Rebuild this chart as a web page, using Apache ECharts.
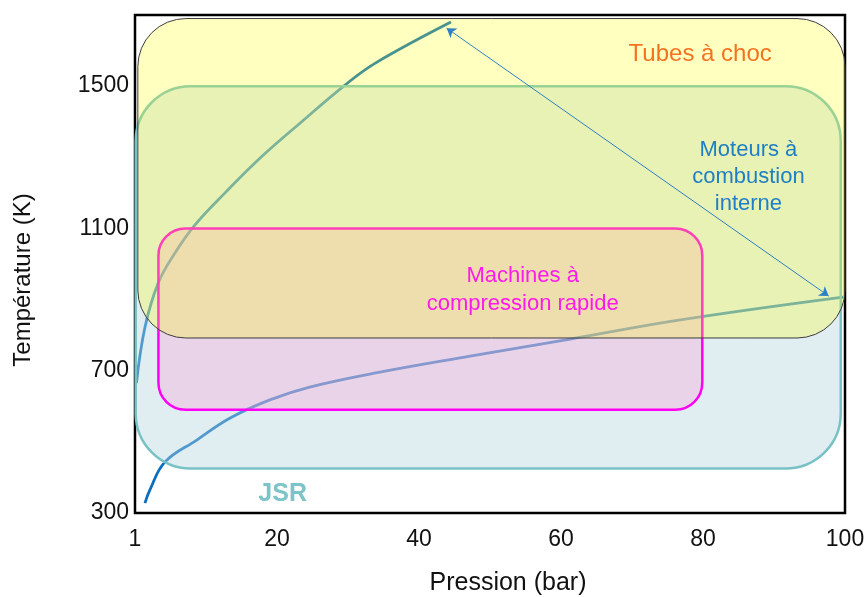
<!DOCTYPE html>
<html>
<head>
<meta charset="utf-8">
<script src="https://cdn.jsdelivr.net/npm/echarts@6/dist/echarts.min.js"></script>
<style>
  html, body { margin: 0; padding: 0; background: #fff; }
  #chart { width: 865px; height: 597px; }
</style>
</head>
<body>
<div id="chart"></div>
<script>
// ---- data ----
const pressureTicks = [0, 20, 40, 60, 80, 100];
const pressureTickLabels = ['1', '20', '40', '60', '80', '100'];
const temperatureTicks = [300, 700, 1100, 1500];

// JSR operating curve (pressure bar, temperature K)
const jsrCurveP = [1.4, 2.1, 4.2, 8.7, 13.4, 19.0, 24.6, 34.5, 47.2, 61.3, 76.8, 99.7];
const jsrCurveT = [328, 365, 443, 505, 567, 618, 654, 696, 741, 789, 843, 907];

// steep curve
const steepCurveP = [0.2, 1.41, 3.28, 5.63, 8.45, 12.68, 17.85, 23.48, 29.58, 33.8, 44.5];
const steepCurveT = [665, 823, 947, 1031, 1110, 1200, 1302, 1400, 1503, 1564, 1680];

// domains: [pMin, pMax, TMin, TMax]  (drawn in this order)
const regionNames = ['JSR', 'Machines à compression rapide', 'Tubes à choc'];
const regionJSR = [0.1, 99.4, 425, 1500];
const regionRCM = [3.3, 79.9, 590, 1100];
const regionShock = [0.4, 100, 792, 1690];

// double arrow between curve ends
const arrowStart = [43.9, 1663];
const arrowEnd = [97.7, 910];

// annotations
const annotationTexts = ['Tubes à choc', 'Moteurs à\ncombustion\ninterne', 'Machines à\ncompression rapide', 'JSR'];
const annotationP = [79.6, 86.4, 54.6, 20.8];
const annotationT = [1588, 1245, 927, 354];

// ---- styles ----
const FONT = 'Liberation Sans, Arial, sans-serif';
const regionStyles = [
  { fill: 'rgba(181,214,224,0.42)', stroke: '#78c2c6', lineWidth: 2.5, r: 55 },
  { fill: 'rgba(255,150,210,0.30)', stroke: '#ff00f5', lineWidth: 2.5, r: 27 },
  { fill: 'rgba(255,255,0,0.25)', stroke: '#3c3c3c', lineWidth: 1, r: 48 }
];
const annotationStyles = [
  { fill: '#f47321', fontSize: 24, fontWeight: 'normal', lineHeight: 27 },
  { fill: '#1f7fc4', fontSize: 22, fontWeight: 'normal', lineHeight: 27 },
  { fill: '#ff1aeb', fontSize: 22, fontWeight: 'normal', lineHeight: 28 },
  { fill: '#7cc4c8', fontSize: 25, fontWeight: 'bold', lineHeight: 27 }
];

const zip = (a, b) => a.map((v, i) => [v, b[i]]);

const chart = echarts.init(document.getElementById('chart'), null, { renderer: 'canvas' });
chart.setOption({
  animation: false,
  backgroundColor: '#fff',
  grid: {
    left: 135, right: 20, top: 15, bottom: 84,
    outerBoundsMode: 'none', containLabel: false,
    show: true, borderColor: '#000', borderWidth: 2.5, backgroundColor: 'transparent'
  },
  xAxis: {
    type: 'value', min: 0, max: 100,
    name: 'Pression (bar)', nameLocation: 'middle', nameGap: 58,
    nameTextStyle: { fontFamily: FONT, fontSize: 25, color: '#111', padding: [0, 0, 0, 36] },
    axisLine: { show: false }, axisTick: { show: false }, splitLine: { show: false },
    axisLabel: {
      customValues: pressureTicks,
      formatter: v => pressureTickLabels[pressureTicks.indexOf(v)],
      fontFamily: FONT, fontSize: 23, color: '#111', margin: 15
    }
  },
  yAxis: {
    type: 'value', min: 300, max: 1700,
    name: 'Température (K)', nameLocation: 'middle', nameGap: 100, nameRotate: 90,
    nameTextStyle: { fontFamily: FONT, fontSize: 24, color: '#111', padding: [0, 32, 0, 0] },
    axisLine: { show: false }, axisTick: { show: false }, splitLine: { show: false },
    axisLabel: {
      customValues: temperatureTicks,
      formatter: v => String(v),
      fontFamily: FONT, fontSize: 23, color: '#111', margin: 6
    }
  },
  series: [
    {
      type: 'line', z: 1, data: zip(jsrCurveP, jsrCurveT), smooth: 0.4, showSymbol: false,
      lineStyle: { color: '#0b6fbf', width: 2.8 }
    },
    {
      type: 'line', z: 1, data: zip(steepCurveP, steepCurveT), smooth: 0.4, showSymbol: false,
      lineStyle: { color: '#0b6fbf', width: 2.8 }
    },
    {
      type: 'custom', z: 2, clip: false,
      data: [regionJSR, regionRCM, regionShock],
      renderItem: function (params, api) {
        const st = regionStyles[params.dataIndex];
        const tl = api.coord([api.value(0), api.value(3)]);
        const br = api.coord([api.value(1), api.value(2)]);
        return {
          type: 'rect',
          shape: { x: tl[0], y: tl[1], width: br[0] - tl[0], height: br[1] - tl[1], r: st.r },
          style: { fill: st.fill, stroke: st.stroke, lineWidth: st.lineWidth }
        };
      }
    },
    {
      type: 'lines', coordinateSystem: 'cartesian2d', z: 3,
      symbol: ['arrow', 'arrow'], symbolSize: 9,
      lineStyle: { color: '#2f80c4', width: 1, opacity: 1 },
      data: [{ coords: [arrowStart, arrowEnd] }]
    },
    {
      type: 'custom', z: 4, clip: false,
      data: zip(annotationP, annotationT),
      renderItem: function (params, api) {
        const st = annotationStyles[params.dataIndex];
        const pt = api.coord([api.value(0), api.value(1)]);
        return {
          type: 'text', x: pt[0], y: pt[1],
          style: {
            text: annotationTexts[params.dataIndex],
            fill: st.fill, fontSize: st.fontSize, fontWeight: st.fontWeight,
            fontFamily: FONT, lineHeight: st.lineHeight,
            align: 'center', verticalAlign: 'middle'
          }
        };
      }
    }
  ]
});
</script>
</body>
</html>
